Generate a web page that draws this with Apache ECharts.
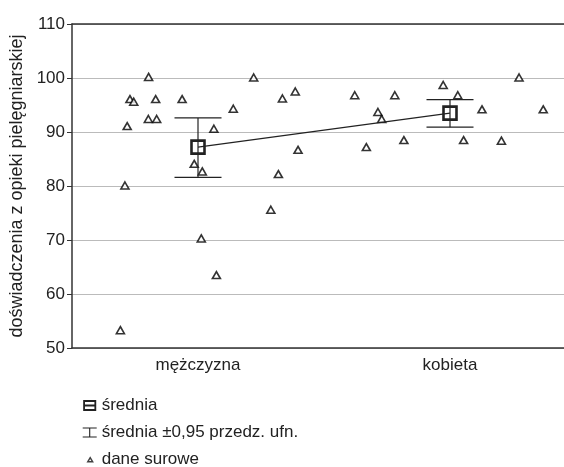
<!DOCTYPE html>
<html>
<head>
<meta charset="utf-8">
<script src="https://cdn.jsdelivr.net/npm/echarts@6/dist/echarts.min.js"></script>
<style>
  html, body { margin: 0; padding: 0; background: #fff; }
  #chart { width: 564px; height: 467px; }
</style>
</head>
<body>
<div id="chart"></div>
<script>
var categories = ['mężczyzna', 'kobieta'];
var yTicks = { min: 50, max: 110, step: 10 };

// średnia i przedział ufności 0,95
var means = [87.2, 93.5];
var ciLow = [81.6, 90.9];
var ciHigh = [92.6, 96.0];

// dane surowe: przesunięcie w poziomie (w jednostkach kategorii) i wartość
var menJitter = [-0.308, -0.290, -0.281, -0.270, -0.255, -0.196, -0.197, -0.168, -0.164, -0.063,
  -0.015, 0.017, 0.013, 0.063, 0.073, 0.140, 0.221, 0.289, 0.319, 0.335, 0.386, 0.397];
var menValues = [53.3, 80.1, 91.1, 96.1, 95.6, 100.2, 92.4, 96.1, 92.4, 96.1,
  84.1, 82.7, 70.3, 90.6, 63.5, 94.3, 100.1, 75.6, 82.2, 96.2, 97.5, 86.7];
var womenJitter = [-0.378, -0.332, -0.286, -0.271, -0.219, -0.183, -0.027, 0.031, 0.054, 0.127,
  0.204, 0.274, 0.370];
var womenValues = [96.8, 87.2, 93.7, 92.4, 96.8, 88.5, 98.7, 96.8, 88.5, 94.2,
  88.4, 100.1, 94.2];

var ink = '#222';
var font = '"Liberation Sans", Arial, sans-serif';

var raw = [];
menJitter.forEach(function (d, i) { raw.push([0.5 + d, menValues[i]]); });
womenJitter.forEach(function (d, i) { raw.push([1.5 + d, womenValues[i]]); });

var ciData = categories.map(function (c, i) { return [i, ciLow[i], ciHigh[i]]; });

var chart = echarts.init(document.getElementById('chart'));
chart.setOption({
  animation: false,
  textStyle: { fontFamily: font, color: ink },
  grid: { left: 72, right: -12, top: 24, bottom: 119, outerBoundsMode: 'none' },
  legend: {
    orient: 'vertical',
    left: 82,
    top: 397,
    height: 100,
    padding: 0,
    itemWidth: 14,
    itemHeight: 9,
    itemGap: 10,
    textStyle: { fontFamily: font, fontSize: 17, color: ink },
    data: [
      { name: 'średnia', icon: 'path://M0,0H10V8H0Z M0,4H10',
        itemStyle: { color: 'rgba(0,0,0,0)', borderColor: ink, borderWidth: 1.8 } },
      { name: 'średnia ±0,95 przedz. ufn.', icon: 'path://M0,0H14 M7,0V9 M0,9H14',
        itemStyle: { color: 'rgba(0,0,0,0)', borderColor: ink, borderWidth: 1.1 } },
      { name: 'dane surowe', icon: 'path://M0,0L0,0 M14,9L14,9 M5,6.8L7.5,2.6L10,6.8Z',
        itemStyle: { color: '#fff', borderColor: '#111', borderWidth: 1.4 } }
    ]
  },
  xAxis: [
    {
      type: 'category', data: categories, position: 'bottom',
      axisLine: { lineStyle: { color: '#333', width: 1.5 } },
      axisTick: { inside: true, alignWithLabel: true, length: 4, lineStyle: { color: '#333' } },
      axisLabel: { fontSize: 17, color: ink, margin: 9 }
    },
    {
      type: 'category', data: categories, position: 'top',
      axisLine: { lineStyle: { color: '#333', width: 1.5 } },
      axisTick: { inside: true, alignWithLabel: true, length: 4, lineStyle: { color: '#333' } },
      axisLabel: { show: false }
    },
    { type: 'value', min: 0, max: 2, show: false }
  ],
  yAxis: {
    type: 'value', min: yTicks.min, max: yTicks.max, interval: yTicks.step,
    name: 'doświadczenia z opieki pielęgniarskiej',
    nameLocation: 'middle', nameGap: 46,
    nameTextStyle: { fontSize: 18, color: ink, fontFamily: font },
    axisLine: { show: true, lineStyle: { color: '#333', width: 1.5 } },
    axisTick: { show: true, length: 5, lineStyle: { color: '#333' } },
    axisLabel: { fontSize: 17, color: ink, margin: 7 },
    splitLine: { lineStyle: { color: '#bbb', width: 1.2 } }
  },
  series: [
    {
      name: 'średnia ±0,95 przedz. ufn.',
      type: 'custom',
      xAxisIndex: 0,
      data: ciData,
      renderItem: function (params, api) {
        var lo = api.coord([api.value(0), api.value(1)]);
        var hi = api.coord([api.value(0), api.value(2)]);
        var half = 23.5;
        var st = { stroke: ink, lineWidth: 1.2 };
        return {
          type: 'group',
          children: [
            { type: 'line', shape: { x1: lo[0], y1: lo[1], x2: hi[0], y2: hi[1] }, style: st },
            { type: 'line', shape: { x1: lo[0] - half, y1: lo[1], x2: lo[0] + half, y2: lo[1] }, style: st },
            { type: 'line', shape: { x1: hi[0] - half, y1: hi[1], x2: hi[0] + half, y2: hi[1] }, style: st }
          ]
        };
      },
      z: 3
    },
    {
      name: 'dane surowe',
      type: 'scatter',
      xAxisIndex: 2,
      data: raw,
      symbol: 'triangle',
      symbolSize: [8, 7],
      itemStyle: { color: '#fff', borderColor: '#000', borderWidth: 1.6 },
      z: 2
    },
    {
      name: 'średnia',
      type: 'line',
      xAxisIndex: 0,
      data: means,
      symbol: 'rect',
      symbolSize: 13,
      lineStyle: { color: ink, width: 1.2 },
      itemStyle: { color: 'rgba(0,0,0,0)', borderColor: ink, borderWidth: 2.6 },
      z: 4
    }
  ]
});
</script>
</body>
</html>
